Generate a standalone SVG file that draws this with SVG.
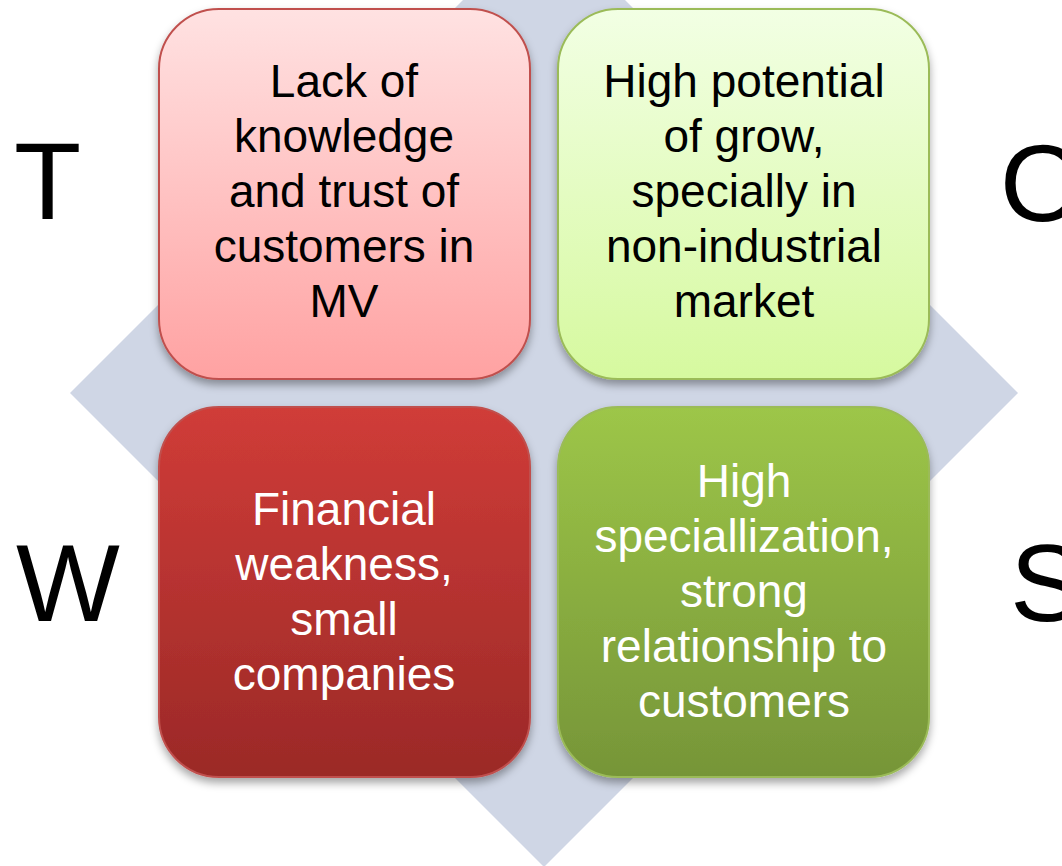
<svg xmlns="http://www.w3.org/2000/svg" width="1062" height="866" viewBox="0 0 1062 866">
<defs>
<linearGradient id="gT" x1="0" y1="0" x2="0" y2="1"><stop offset="0" stop-color="#ffe2e2"/><stop offset="1" stop-color="#ffa2a2"/></linearGradient>
<linearGradient id="gO" x1="0" y1="0" x2="0" y2="1"><stop offset="0" stop-color="#f2ffe4"/><stop offset="1" stop-color="#d6f99f"/></linearGradient>
<linearGradient id="gW" x1="0" y1="0" x2="0" y2="1"><stop offset="0" stop-color="#d03c38"/><stop offset="1" stop-color="#9b2927"/></linearGradient>
<linearGradient id="gS" x1="0" y1="0" x2="0" y2="1"><stop offset="0" stop-color="#9dc648"/><stop offset="1" stop-color="#769538"/></linearGradient>
<filter id="sh" x="-10%" y="-10%" width="120%" height="125%"><feDropShadow dx="0" dy="5" stdDeviation="4" flood-color="#000" flood-opacity="0.35"/></filter>
</defs>
<style>
.box{stroke-width:2;filter:url(#sh)}
.t{font-family:"Liberation Sans",Arial,sans-serif;font-size:46px;text-anchor:middle}
.big{font-family:"Liberation Sans",Arial,sans-serif;font-size:110px}
</style>
<polygon points="544,-81 1018,393 544,867 70,393" fill="#cfd6e5"/>
<g id="letters">
<text class="big" x="14" y="219">T</text>
<text class="big" x="1000" y="221">O</text>
<text class="big" x="16" y="621">W</text>
<text class="big" x="1010" y="621">S</text>
</g>
<g id="threat">
<rect class="box" x="159" y="9" width="371" height="370" rx="60" fill="url(#gT)" stroke="#c0504d"/>
<text class="t" x="344" y="97">Lack of</text>
<text class="t" x="344" y="152">knowledge</text>
<text class="t" x="344" y="207">and trust of</text>
<text class="t" x="344" y="262">customers in</text>
<text class="t" x="344" y="317">MV</text>
</g>
<g id="opportunity">
<rect class="box" x="558" y="9" width="371" height="370" rx="60" fill="url(#gO)" stroke="#9bbb59"/>
<text class="t" x="744" y="97">High potential</text>
<text class="t" x="744" y="152">of grow,</text>
<text class="t" x="744" y="207">specially in</text>
<text class="t" x="744" y="262">non-industrial</text>
<text class="t" x="744" y="317">market</text>
</g>
<g id="weakness">
<rect class="box" x="159" y="407" width="371" height="370" rx="60" fill="url(#gW)" stroke="#c0504d"/>
<text class="t" x="344" y="525" fill="#fff">Financial</text>
<text class="t" x="344" y="580" fill="#fff">weakness,</text>
<text class="t" x="344" y="635" fill="#fff">small</text>
<text class="t" x="344" y="690" fill="#fff">companies</text>
</g>
<g id="strength">
<rect class="box" x="558" y="407" width="371" height="370" rx="60" fill="url(#gS)" stroke="#9bbb59"/>
<text class="t" x="744" y="497" fill="#fff">High</text>
<text class="t" x="744" y="552" fill="#fff">speciallization,</text>
<text class="t" x="744" y="607" fill="#fff">strong</text>
<text class="t" x="744" y="662" fill="#fff">relationship to</text>
<text class="t" x="744" y="717" fill="#fff">customers</text>
</g>
<g id="connectors"/>
</svg>
